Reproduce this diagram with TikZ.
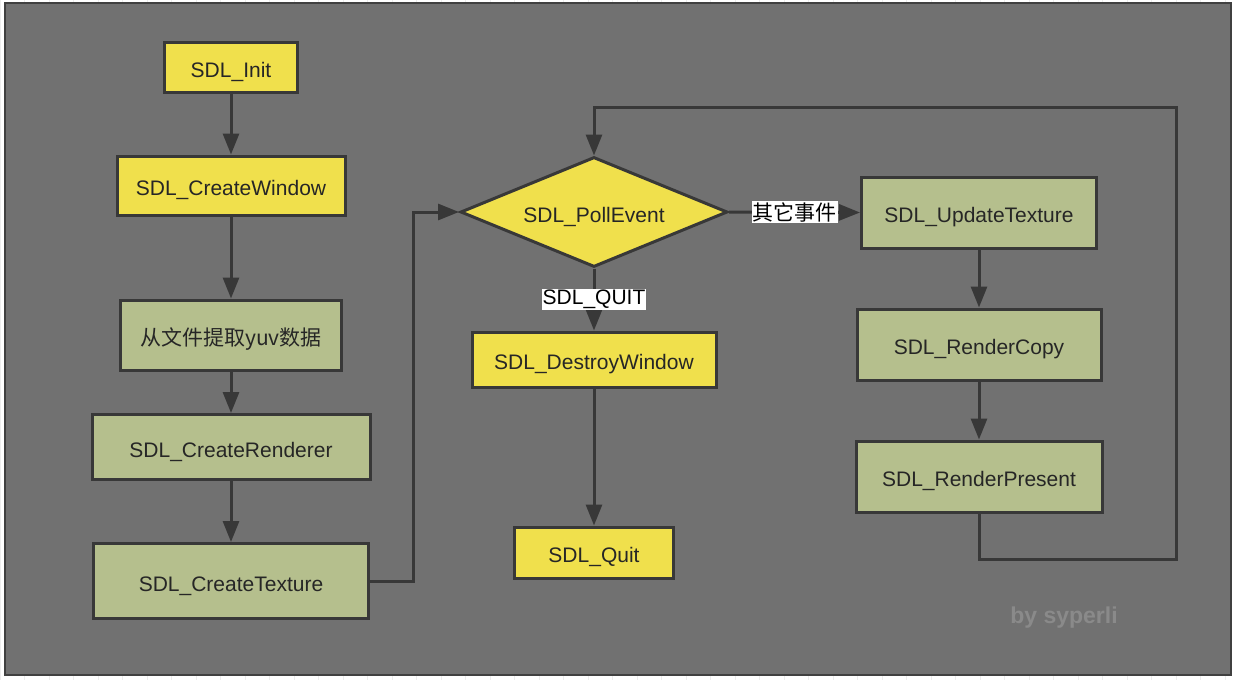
\documentclass[tikz,border=0pt]{standalone}
\usepackage{fontspec}
\setmainfont{Liberation Sans}
\newfontfamily\cjk{Noto Sans CJK SC}
\usetikzlibrary{shapes.geometric,arrows.meta}
\definecolor{panel}{HTML}{717171}
\definecolor{edge}{HTML}{383838}
\definecolor{ylw}{HTML}{F0E04C}
\definecolor{grn}{HTML}{B5BF8D}
\definecolor{mark}{HTML}{8A8A8A}
\begin{document}
\begin{tikzpicture}[x=1pt, y=-1pt, line width=3pt, draw=edge,
    box/.style={draw=edge, line width=3pt, inner sep=0pt, text=black!85,
      text height=20pt, text depth=0pt, font=\fontsize{21}{25}\selectfont},
    ybox/.style={box, fill=ylw},
    gbox/.style={box, fill=grn},
    cond/.style={box, fill=ylw, diamond, aspect=2.43},
    lbl/.style={fill=white, inner sep=1pt, text=black, font=\fontsize{21}{25}\selectfont},
    arr/.style={edge, line width=3pt, -{Triangle[length=21pt,width=16pt]}}]
  \useasboundingbox (0,0) rectangle (1237,680);
  \fill[white] (0,0) rectangle (1237,680);
  \draw[black!7, line width=0.8pt, step=24.5] (0,0) grid (1237,680);
  \draw[fill=panel, draw=black!75, line width=2pt] (5,3) rectangle (1231,675);

  \node[ybox, minimum width=133, minimum height=50] (init) at (231,67) {SDL\_Init};
  \node[ybox, minimum width=228, minimum height=59] (win) at (231,185.5) {SDL\_CreateWindow};
  \node[gbox, minimum width=221, minimum height=70] (yuv) at (231,335) {\cjk 从文件提取yuv数据};
  \node[gbox, minimum width=278, minimum height=65] (rend) at (231,447) {SDL\_CreateRenderer};
  \node[gbox, minimum width=275, minimum height=75] (tex) at (231,581) {SDL\_CreateTexture};

  \node[cond, minimum width=267, minimum height=110] (poll) at (594,212) {SDL\_PollEvent};
  \node[ybox, minimum width=244, minimum height=55] (destroy) at (594,359.5) {SDL\_DestroyWindow};
  \node[ybox, minimum width=159, minimum height=51] (quit) at (594,552.5) {SDL\_Quit};

  \node[gbox, minimum width=235, minimum height=71] (upd) at (979,212.5) {SDL\_UpdateTexture};
  \node[gbox, minimum width=244, minimum height=71] (copy) at (979,344.5) {SDL\_RenderCopy};
  \node[gbox, minimum width=246, minimum height=71] (present) at (979,476.5) {SDL\_RenderPresent};

  \node[text=mark, font=\fontsize{23}{27}\selectfont\bfseries] (sign) at (1064,618) {by syperli};

  \coordinate (up) at (413,212);
  \coordinate (loopa) at (1176,559);
  \coordinate (loopb) at (594,107);

  \draw[arr] (init) -- (win);
  \draw[arr] (win) -- (yuv);
  \draw[arr] (yuv) -- (rend);
  \draw[arr] (rend) -- (tex);
  \draw[arr] (tex.east) -| (up) -- (poll.west);
  \draw[arr] (poll.east) -- node[lbl] {\cjk 其它事件} (upd.west);
  \draw[arr] (poll.south) -- node[lbl] {SDL\_QUIT} (destroy.north);
  \draw[arr] (destroy) -- (quit);
  \draw[arr] (upd) -- (copy);
  \draw[arr] (copy) -- (present);
  \draw[arr] (present.south) |- (loopa) |- (loopb) -- (poll.north);
\end{tikzpicture}
\end{document}
